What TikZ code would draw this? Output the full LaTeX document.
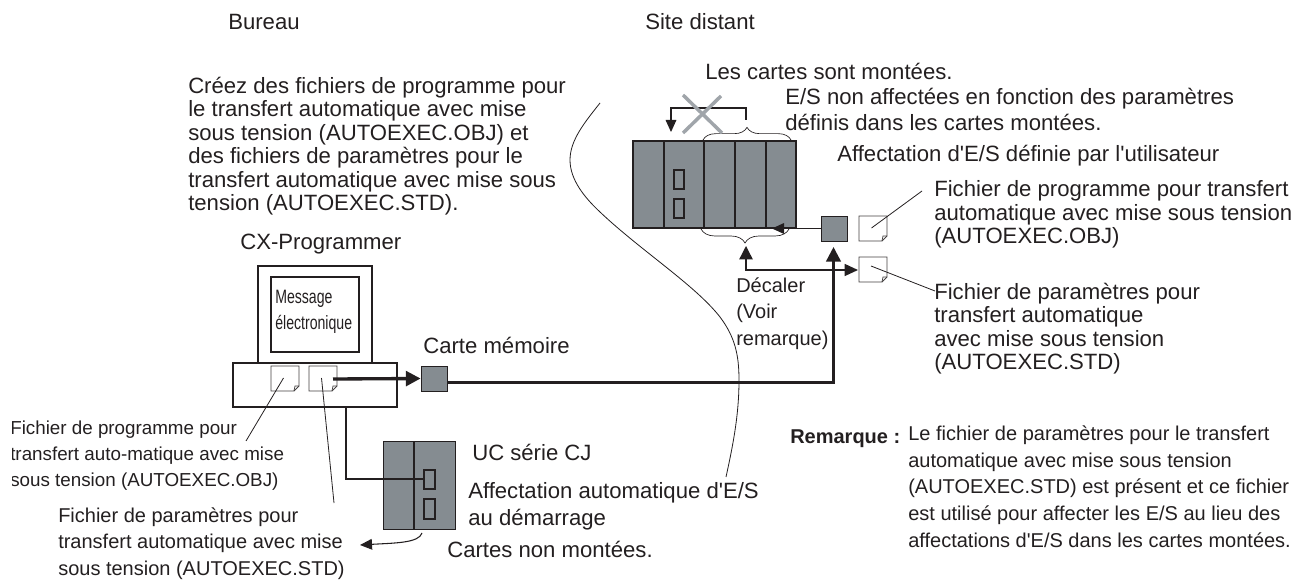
\documentclass[tikz,border=0pt]{standalone}
\usepackage{fontspec}
\setmainfont{Liberation Sans}[Ligatures=TeXOff]
\newfontfamily\narrowf{Liberation Sans}[FakeStretch=.73]
\usetikzlibrary{arrows.meta,decorations.pathreplacing}
\definecolor{rackgray}{HTML}{858C91}
\definecolor{crossgray}{HTML}{A0A5AA}
\definecolor{inkc}{HTML}{231F20}
\tikzset{
 lab/.style={anchor=north west,yshift=13pt,inner sep=0pt,align=left,text=inkc,
   execute at begin node={\rule{0pt}{13pt}},font=\fontsize{16.6}{17.6}\selectfont},
 labw/.style={lab,font=\fontsize{16.6}{19.7}\selectfont},
 labs/.style={lab,font=\fontsize{15}{19.7}\selectfont},
 labn/.style={lab,font=\fontsize{14.1}{19.6}\selectfont},
 labb/.style={lab,font=\fontsize{15}{20}\selectfont\bfseries},
 labm/.style={lab,font=\narrowf\fontsize{14.5}{19.5}\selectfont},
 cardbox/.style={fill=rackgray,draw=inkc,line width=.6pt,inner sep=0pt,minimum width=19.5pt,minimum height=18.75pt},
 slot/.style={draw=inkc,line width=.8pt},
 divline/.style={draw=inkc,line width=1pt},
 leader/.style={draw=inkc,line width=.6pt},
 bracec/.style={draw=inkc,line width=.5pt,decorate,decoration={brace,amplitude=#1}},
 thinarrow/.style={draw=inkc,line width=.8pt,-{Triangle[length=9pt,width=8pt]}},
 shiftarrow/.style={draw=inkc,line width=1pt,{Triangle[length=10pt,width=10pt]}-{Triangle[length=10pt,width=9pt]}},
 thickarrow/.style={draw=inkc,line width=1.8pt,-{Triangle[length=11pt,width=11pt]}},
 heavyarrow/.style={draw=inkc,line width=2.5pt,-{Triangle[length=11pt,width=11pt]}},
 pc/.style={draw=inkc,line width=1.7pt},
}
\newcommand{\docicon}[3]{%
 \draw[draw=inkc!85,line width=.55pt,fill=white] (#1,#2) -- ++(28,0) -- ++(0,20) -- ++(-5,5) -- ++(-23,0) -- cycle;
 \draw[draw=inkc!85,line width=.55pt] (#1+28,#2+20) -- ++(-4,0) -- ++(-1,5);
 \coordinate (#3) at (#1+12.5,#2+12);}
\begin{document}
\begin{tikzpicture}[x=0.75pt,y=-0.75pt]
\useasboundingbox (0,0) rectangle (1295,584);
% divider curve
\draw[leader] (600,103) .. controls (585,122) and (570,140) .. (570,160) .. controls (570,180) and (585,198) .. (600,212) .. controls (640,250) and (695,285) .. (720,317) .. controls (735,337) and (739,355) .. (739,380) .. controls (739,415) and (733,445) .. (726,477);
% rack
\fill[rackgray] (633,141) rectangle (796,228);
\draw[inkc,line width=1pt] (633,141) rectangle (796,228);
\foreach \x in {664,704,735,766} \draw[divline] (\x,141) -- (\x,228);
\draw[slot] (674,170) rectangle (684,189);
\draw[slot] (674,199) rectangle (684,218);
\draw[bracec=9.5pt] (703,140) -- (791,140);
\coordinate (topbrace) at (746,120);
\coordinate (rackin) at (671,132);
\draw[thinarrow] (topbrace) -- (topbrace |- 0,108) -- (rackin |- 0,108) -- (rackin);
\draw[crossgray,line width=2.6pt] (683,95) -- (722,133) (721,96) -- (683,133);
\draw[bracec=10.5pt] (789,229) -- (701,229);
% remote memory card and files
\node[cardbox] (cardR) at (834,228.5) {};
\coordinate (rackedge) at (772,228.5);
\draw[thinarrow] (cardR.west) -- (rackedge);
\docicon{859}{216}{d1}
\docicon{859}{257}{d2}
\coordinate (d2s) at (871,266);
\coordinate (d1e) at (922,191);
\coordinate (d2e) at (935,291);
\draw[leader] (d1) -- (d1e);
\draw[leader] (d2s) -- (d2e);
% shift arrows
\coordinate (shiftup) at (746,246);
\coordinate (shiftdoc) at (858,270);
\draw[shiftarrow] (shiftup) -- (shiftup |- shiftdoc) -- (shiftdoc);
% computer
\draw[pc] (258,363) -- (258,266) -- (372,266) -- (372,363);
\draw[inkc,line width=1pt] (271,277) rectangle (359,352);
\node[draw=inkc,line width=1.6pt,inner sep=0pt,minimum width=123pt,minimum height=32.5pt] (base) at (315,385) {};
\docicon{271}{366}{d3}
\docicon{309}{366}{d4}
\coordinate (d3e) at (246,441);
\coordinate (d4e) at (334,503);
\draw[leader] (d3) -- (d3e);
\draw[leader] (d4) -- (d4e);
% local memory card
\node[cardbox] (cardL) at (434,378.5) {};
\coordinate (d4s) at (333,379);
\coordinate (cardLout) at (447,382.5);
\coordinate (cardRin) at (833.5,247);
\draw[heavyarrow] (d4s) -- (cardL.west);
\draw[thickarrow] (cardLout) -- (cardRin |- cardLout) -- (cardRin);
% CPU CJ
\fill[rackgray] (383,441) rectangle (455,529);
\draw[inkc,line width=.6pt] (383,441) rectangle (455,529);
\draw[divline] (414,441) -- (414,529);
\draw[slot] (424,470) rectangle (435,489);
\draw[slot] (424,499) rectangle (435,519);
\coordinate (basecpu) at (346,407);
\coordinate (cpuslot) at (424,479);
\draw[inkc,line width=1.6pt] (basecpu) -- (basecpu |- cpuslot) -- (cpuslot);
\coordinate (cpub) at (422,533);
\coordinate (cpulab) at (360,545);
\draw[thinarrow] (cpub) .. controls (419,543) and (395,543) .. (cpulab);
% texts (positions are baselines of the first line)
\node[lab] (t1) at (228,29) {Bureau};
\node[lab] (t2) at (645,29) {Site distant};
\node[lab] (t3) at (188,94.3) {Créez des fichiers de programme pour\\le transfert automatique avec mise\\sous tension (AUTOEXEC.OBJ) et\\des fichiers de paramètres pour le\\transfert automatique avec mise sous\\tension (AUTOEXEC.STD).};
\node[lab] (t4) at (705,79) {Les cartes sont montées.};
\node[labw] (t5) at (785,105) {E/S non affectées en fonction des paramètres\\définis dans les cartes montées.};
\node[lab] (t6) at (837,161) {Affectation d'E/S définie par l'utilisateur};
\node[lab] (t7) at (934,198) {Fichier de programme pour transfert\\automatique avec mise sous tension\\(AUTOEXEC.OBJ)};
\node[lab] (t8) at (934,300) {Fichier de paramètres pour\\transfert automatique\\avec mise sous tension\\(AUTOEXEC.STD)};
\node[labs] (t9) at (736,295) {Décaler\\(Voir\\remarque)};
\node[lab] (t10) at (240,249) {CX-Programmer};
\node[labm] (t11) at (275,307) {Message\\électronique};
\node[lab] (t12) at (423,353) {Carte mémoire};
\begin{scope}
\clip (12.5,410) rectangle (300,500);
\node[labn] (t13) at (10,438) {Fichier de programme pour\\transfert auto-matique avec mise\\sous tension (AUTOEXEC.OBJ)};
\end{scope}
\node[labs] (t16) at (58,525) {Fichier de paramètres pour\\transfert automatique avec mise\\sous tension (AUTOEXEC.STD)};
\node[lab] (t17) at (472,460) {UC série CJ};
\node[labw] (t18) at (468,500) {Affectation automatique d'E/S\\au démarrage};
\node[lab] (t19) at (447,557) {Cartes non montées.};
\node[labb] (t20) at (790,443) {Remarque :};
\node[lab,font=\fontsize{15}{20}\selectfont] (t21) at (908,443) {Le fichier de paramètres pour le transfert\\automatique avec mise sous tension\\(AUTOEXEC.STD) est présent et ce fichier\\est utilisé pour affecter les E/S au lieu des\\affectations d'E/S dans les cartes montées.};
\end{tikzpicture}
\end{document}
